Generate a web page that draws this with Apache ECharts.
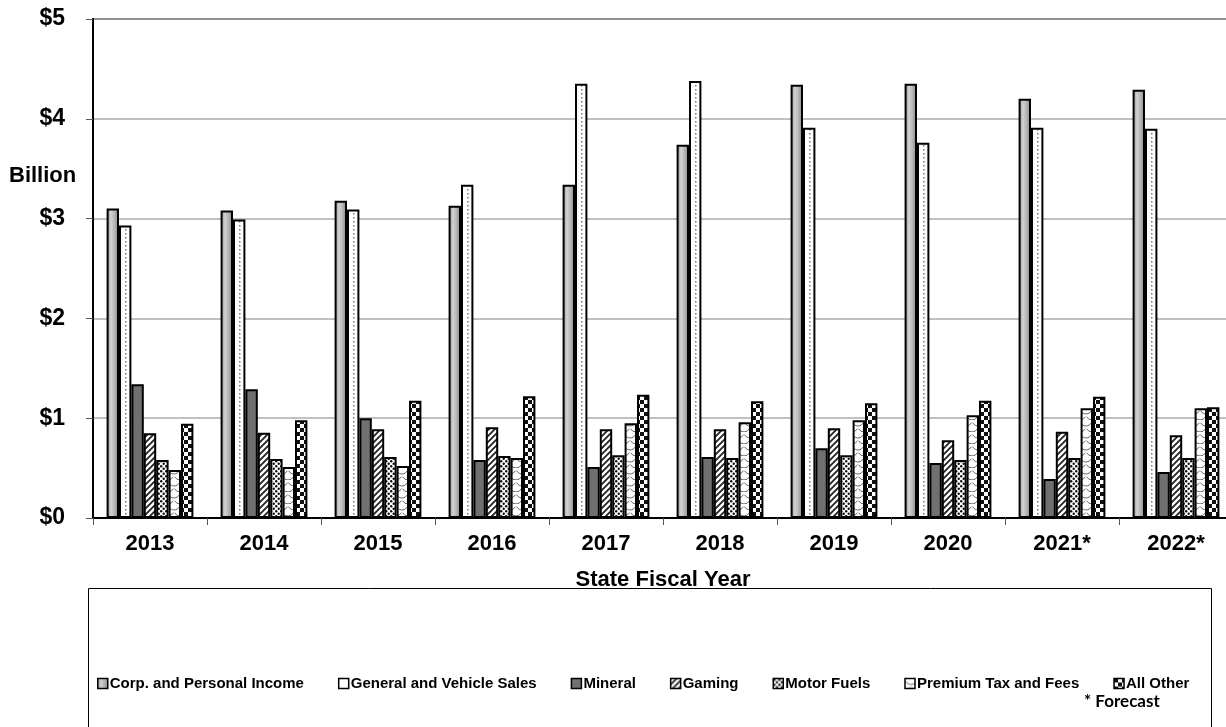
<!DOCTYPE html>
<html>
<head>
<meta charset="utf-8">
<script src="https://cdn.jsdelivr.net/npm/echarts@6/dist/echarts.min.js"></script>
<style>
html,body{margin:0;padding:0;background:#fff;}
#main{width:1226px;height:727px;}
</style>
</head>
<body>
<div id="main"></div>
<script>
// ---- data ----
var categories = ['2013','2014','2015','2016','2017','2018','2019','2020','2021*','2022*'];
var seriesNames = ['Corp. and Personal Income','General and Vehicle Sales','Mineral','Gaming','Motor Fuels','Premium Tax and Fees','All Other'];
var corpIncome   = [3.10, 3.08, 3.18, 3.13, 3.34, 3.74, 4.34, 4.35, 4.20, 4.29];
var generalSales = [2.93, 2.99, 3.09, 3.34, 4.35, 4.38, 3.91, 3.76, 3.91, 3.90];
var mineral      = [1.34, 1.29, 1.00, 0.58, 0.51, 0.61, 0.70, 0.55, 0.39, 0.46];
var gaming       = [0.85, 0.855, 0.89, 0.91, 0.89, 0.89, 0.90, 0.78, 0.865, 0.83];
var motorFuels   = [0.58, 0.59, 0.61, 0.62, 0.63, 0.60, 0.63, 0.58, 0.60, 0.60];
var premiumTax   = [0.48, 0.51, 0.52, 0.60, 0.95, 0.96, 0.98, 1.03, 1.10, 1.10];
var allOther     = [0.945, 0.98, 1.175, 1.22, 1.235, 1.17, 1.15, 1.175, 1.215, 1.11];
var yTicks = [0, 1, 2, 3, 4, 5];

// ---- layout constants ----
var GRID_LEFT = 93, GRID_TOP = 19, GRID_W = 1140, GRID_H = 499;
var BAND = GRID_W / categories.length;
var BW = 12.4;
var FONT = '"Liberation Sans", Arial, sans-serif';

function mk(w, h, draw) {
  var c = document.createElement('canvas');
  c.width = w; c.height = h;
  var ctx = c.getContext('2d');
  ctx.fillStyle = '#fff'; ctx.fillRect(0, 0, w, h);
  draw(ctx);
  return { image: c, repeat: 'repeat' };
}

// Corp: cylinder gradient
var corpFill = new echarts.graphic.LinearGradient(0, 0, 1, 0, [
  { offset: 0, color: '#8c8c8c' },
  { offset: 0.35, color: '#d2d2d2' },
  { offset: 0.65, color: '#b4b4b4' },
  { offset: 1, color: '#808080' }
]);
// General: white with dotted centre line
var genCenter = GRID_LEFT + BAND / 2 - 3.5 * BW + 1.5 * BW;
var genOff = genCenter % BAND;
var genFill = mk(Math.round(BAND), 4, function (ctx) {
  ctx.fillStyle = '#777';
  ctx.fillRect(Math.floor(genOff), 1, 1.5, 1.5);
});
// Gaming: diagonal stripes
var gamingFill = mk(6, 6, function (ctx) {
  ctx.strokeStyle = '#222'; ctx.lineWidth = 1.8;
  ctx.beginPath();
  ctx.moveTo(0, 6); ctx.lineTo(6, 0);
  ctx.moveTo(-3, 3); ctx.lineTo(3, -3);
  ctx.moveTo(3, 9); ctx.lineTo(9, 3);
  ctx.stroke();
});
// Motor fuels: dots
var motorFill = mk(5, 5, function (ctx) {
  ctx.fillStyle = '#111';
  ctx.beginPath(); ctx.arc(1.2, 1.2, 1.2, 0, Math.PI * 2); ctx.fill();
  ctx.beginPath(); ctx.arc(3.7, 3.7, 1.2, 0, Math.PI * 2); ctx.fill();
});
// Premium: scale / wave pattern
var premiumFill = mk(12, 12, function (ctx) {
  ctx.strokeStyle = '#666'; ctx.lineWidth = 1;
  ctx.beginPath(); ctx.arc(6, 0, 6, 0.15 * Math.PI, 0.85 * Math.PI); ctx.stroke();
  ctx.beginPath(); ctx.arc(0, 6, 6, 0.15 * Math.PI, 0.5 * Math.PI); ctx.stroke();
  ctx.beginPath(); ctx.arc(12, 6, 6, 0.5 * Math.PI, 0.85 * Math.PI); ctx.stroke();
});
// All other: checkerboard
var checkFill = mk(8, 8, function (ctx) {
  ctx.fillStyle = '#111';
  ctx.fillRect(0, 0, 4, 4); ctx.fillRect(4, 4, 4, 4);
});

var fills = [corpFill, genFill, '#707070', gamingFill, motorFill, premiumFill, checkFill];
var datas = [corpIncome, generalSales, mineral, gaming, motorFuels, premiumTax, allOther];

var series = seriesNames.map(function (name, i) {
  return {
    name: name,
    type: 'bar',
    data: datas[i],
    barWidth: BW,
    barGap: '0%',
    itemStyle: { color: fills[i], borderColor: '#000', borderWidth: 2 },
    emphasis: { disabled: true }
  };
});

var chart = echarts.init(document.getElementById('main'), null, { renderer: 'canvas' });
chart.setOption({
  animation: false,
  backgroundColor: '#fff',
  textStyle: { fontFamily: FONT },
  grid: {
    left: GRID_LEFT, top: GRID_TOP, width: GRID_W, height: GRID_H,
    show: true, borderColor: '#000', borderWidth: 1.5, backgroundColor: 'transparent',
    containLabel: false, outerBoundsMode: 'none'
  },
  legend: {
    data: seriesNames,
    left: 92, top: 671,
    icon: 'rect',
    itemWidth: 10, itemHeight: 10, itemGap: 34,
    itemStyle: { borderWidth: 1.5, borderColor: '#000' },
    textStyle: { fontFamily: FONT, fontWeight: 'bold', fontSize: 15, color: '#000', padding: [0, 0, 0, -3] },
    selectedMode: false
  },
  xAxis: {
    type: 'category',
    data: categories,
    boundaryGap: true,
    axisLine: { lineStyle: { color: '#000', width: 2 } },
    axisTick: { show: true, interval: 0, length: 7, lineStyle: { color: '#555', width: 1 } },
    axisLabel: { interval: 0, margin: 15, fontFamily: FONT, fontWeight: 'bold', fontSize: 22, color: '#000' },
    name: 'State Fiscal Year',
    nameLocation: 'middle',
    nameGap: 51,
    nameTextStyle: { fontFamily: FONT, fontWeight: 'bold', fontSize: 22, color: '#000' }
  },
  yAxis: {
    type: 'value',
    min: yTicks[0], max: yTicks[yTicks.length - 1], interval: 1,
    axisLine: { show: true, lineStyle: { color: '#000', width: 2 } },
    axisTick: { show: true, length: 7, lineStyle: { color: '#555', width: 1 } },
    axisLabel: { margin: 28, fontFamily: FONT, fontWeight: 'bold', fontSize: 23, color: '#000',
      formatter: function (v) { return '$' + v; } },
    splitLine: { show: true, lineStyle: { color: '#ababab', width: 1.5 } }
  },
  graphic: [
    { type: 'rect', z: -1, shape: { x: 88.5, y: 588.5, width: 1123, height: 160 },
      style: { fill: 'none', stroke: '#000', lineWidth: 1 } },
    { type: 'text', left: 9, top: 165,
      style: { text: 'Billion', font: 'bold 22px ' + FONT, fill: '#000' } },
    { type: 'text', left: 1084, top: 693,
      style: { text: '* Forecast', font: 'bold 17px Lato, "Open Sans", sans-serif', fill: '#000' } }
  ],
  series: series
});
</script>
</body>
</html>
